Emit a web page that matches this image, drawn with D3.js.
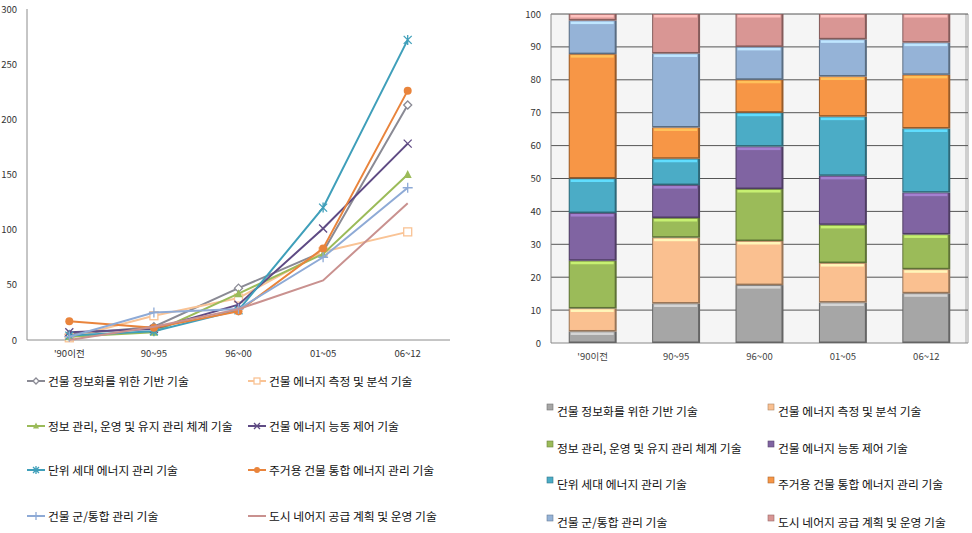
<!DOCTYPE html>
<html><head><meta charset="utf-8">
<script src="https://cdn.jsdelivr.net/npm/d3@7"></script>
<style>
body{margin:0;background:#fff;}
text{font-family:"Noto Sans CJK KR","Noto Sans",sans-serif;}
</style></head>
<body><svg id="c" width="972" height="533"></svg>
<script>
const categories = ["'90이전","90~95","96~00","01~05","06~12"];
const seriesNames = [
 "건물 정보화를 위한 기반 기술",
 "건물 에너지 측정 및 분석 기술",
 "정보 관리, 운영 및 유지 관리 체계 기술",
 "건물 에너지 능동 제어 기술",
 "단위 세대 에너지 관리 기술",
 "주거용 건물 통합 에너지 관리 기술",
 "건물 군/통합 관리 기술",
 "도시 네어지 공급 계획 및 운영 기술"
];
// left chart: counts per period
const infoBase   = [5, 12, 47, 80, 213];
const measure    = [2, 22, 38, 80, 98];
const infoMgmt   = [3, 7, 42, 78, 150];
const activeCtrl = [7, 10, 32, 101, 178];
const unitHouse  = [4, 8, 27, 120, 272];
const residInteg = [17, 11, 26, 83, 226];
const groupMgmt  = [3, 25, 28, 75, 138];
const citySupply = [0, 12, 28, 54, 124];
// right chart: share (%) per period, same series order
const shareInfoBase   = [3.5, 12, 17.6, 12.3, 15.1];
const shareMeasure    = [7, 20, 13.4, 12, 7.3];
const shareInfoMgmt   = [14.5, 6, 15.8, 11.6, 10.6];
const shareActiveCtrl = [14.5, 10, 12.9, 14.9, 12.7];
const shareUnitHouse  = [10.5, 8, 10.3, 18, 19.5];
const shareResidInteg = [37.8, 9.5, 10, 12.2, 16.3];
const shareGroupMgmt  = [10.2, 22.5, 10, 11.3, 9.8];
const shareCitySupply = [2, 12, 10, 7.7, 8.7];
const leftTicks = [0,50,100,150,200,250,300];
const rightTicks = [0,10,20,30,40,50,60,70,80,90,100];

const lineSeries = [infoBase, measure, infoMgmt, activeCtrl, unitHouse, residInteg, groupMgmt, citySupply];
const shareSeries = [shareInfoBase, shareMeasure, shareInfoMgmt, shareActiveCtrl, shareUnitHouse, shareResidInteg, shareGroupMgmt, shareCitySupply];
const lineColors = ["#8a8a94","#f9c395","#9bbb59","#5f4b84","#3f9fba","#e9843c","#8eaad6","#c9918f"];
const markers = ["diamond","square","triangle","x","star","circle","plus","none"];
const barColors = ["#a6a6a6","#fac090","#9bbb59","#8064a2","#4bacc6","#f79646","#95b3d7","#d99694"];

const svg = d3.select("#c");

// ---------- LEFT LINE CHART ----------
const L = {x0:27, x1:450, y0:340, y1:9};
const xL = d3.scaleBand().domain(categories).range([L.x0, L.x1]);
const yL = d3.scaleLinear().domain([0,300]).range([L.y0, L.y1]);
const gL = svg.append("g");
gL.append("line").attr("x1",L.x0).attr("x2",L.x0).attr("y1",L.y1).attr("y2",L.y0).attr("stroke","#8c8c8c");
gL.append("line").attr("x1",L.x0).attr("x2",L.x1).attr("y1",L.y0).attr("y2",L.y0).attr("stroke","#8c8c8c");
gL.selectAll(".yt").data(leftTicks).join("text").attr("x",17).attr("y",d=>yL(d)+3.5)
  .attr("text-anchor","end").attr("font-size",9.5).attr("fill","#333").text(d=>d);
gL.selectAll(".xt").data(categories).join("text").attr("x",d=>xL(d)+xL.bandwidth()/2).attr("y",357)
  .attr("text-anchor","middle").attr("font-size",9.5).attr("fill","#333").text(d=>d);

function drawMarker(g, type, x, y, color, s){
  s = s||4;
  if(type==="diamond"){
    g.append("path").attr("d",`M${x},${y-s}L${x+s},${y}L${x},${y+s}L${x-s},${y}Z`).attr("fill","#fff").attr("stroke",color).attr("stroke-width",1.3);
  } else if(type==="square"){
    g.append("rect").attr("x",x-s).attr("y",y-s).attr("width",2*s).attr("height",2*s).attr("fill","#fff").attr("stroke",color).attr("stroke-width",1.3);
  } else if(type==="triangle"){
    g.append("path").attr("d",`M${x},${y-s-0.5}L${x+s},${y+s-0.5}L${x-s},${y+s-0.5}Z`).attr("fill",color);
  } else if(type==="x"){
    g.append("path").attr("d",`M${x-s},${y-s}L${x+s},${y+s}M${x-s},${y+s}L${x+s},${y-s}`).attr("stroke",color).attr("stroke-width",1.3);
  } else if(type==="star"){
    g.append("path").attr("d",`M${x-s},${y-s}L${x+s},${y+s}M${x-s},${y+s}L${x+s},${y-s}M${x},${y-s-1}L${x},${y+s+1}`).attr("stroke",color).attr("stroke-width",1.3);
  } else if(type==="circle"){
    g.append("circle").attr("cx",x).attr("cy",y).attr("r",s).attr("fill",color);
  } else if(type==="plus"){
    g.append("path").attr("d",`M${x-s-1},${y}L${x+s+1},${y}M${x},${y-s-1}L${x},${y+s+1}`).attr("stroke",color).attr("stroke-width",1.3);
  }
}
const line = d3.line().x((d,i)=>xL(categories[i])+xL.bandwidth()/2).y(d=>yL(d));
lineSeries.forEach((vals,si)=>{
  const g = gL.append("g");
  g.append("path").datum(vals).attr("d",line).attr("fill","none").attr("stroke",lineColors[si]).attr("stroke-width",2);
  vals.forEach((v,i)=>drawMarker(g, markers[si], xL(categories[i])+xL.bandwidth()/2, yL(v), lineColors[si]));
});
// left legend
const legRowsL = [381,426,470,516];
seriesNames.forEach((n,i)=>{
  const col = i%2, row = Math.floor(i/2);
  const mx = col===0 ? 27 : 248;
  const y = legRowsL[row];
  const g = gL.append("g");
  g.append("line").attr("x1",mx).attr("x2",mx+18).attr("y1",y).attr("y2",y).attr("stroke",lineColors[i]).attr("stroke-width",2);
  drawMarker(g, markers[i], mx+9, y, lineColors[i], 3);
  g.append("text").attr("x",mx+21).attr("y",y+4.5).attr("font-size",11.8).attr("fill","#111").text(n);
});

// ---------- RIGHT STACKED BAR CHART ----------
const R = {x0:551, x1:968, y0:343, y1:14};
const xR = d3.scaleBand().domain(categories).range([R.x0, R.x1]).paddingInner(0.425).paddingOuter(0.2125);
const yR = d3.scaleLinear().domain([0,100]).range([R.y0, R.y1]);
const gR = svg.append("g");
gR.append("rect").attr("x",R.x0).attr("y",R.y1).attr("width",R.x1-R.x0).attr("height",R.y0-R.y1).attr("fill","#f5f5f5");
gR.append("rect").attr("x",R.x1-3).attr("y",R.y1).attr("width",4).attr("height",R.y0-R.y1).attr("fill","#cfcfcf");
gR.selectAll(".gl").data(rightTicks).join("line").attr("x1",R.x0).attr("x2",R.x1).attr("y1",d=>yR(d)).attr("y2",d=>yR(d))
  .attr("stroke",d=>d===0?"#888":"#555").attr("stroke-width",1);
gR.append("line").attr("x1",R.x0).attr("x2",R.x0).attr("y1",R.y1).attr("y2",R.y0).attr("stroke","#888");
gR.selectAll(".yt").data(rightTicks).join("text").attr("x",541).attr("y",d=>yR(d)+3.5)
  .attr("text-anchor","end").attr("font-size",9.5).attr("fill","#333").text(d=>d);
gR.selectAll(".xt").data(categories).join("text").attr("x",d=>xR(d)+xR.bandwidth()/2).attr("y",360)
  .attr("text-anchor","middle").attr("font-size",9.5).attr("fill","#444").text(d=>d);

const stackData = categories.map((c,i)=>{const o={cat:c}; shareSeries.forEach((s,si)=>o["s"+si]=s[i]); return o;});
const stack = d3.stack().keys(shareSeries.map((s,i)=>"s"+i))(stackData);
stack.forEach((layer,si)=>{
  const base = d3.color(barColors[si]);
  const dark = base.darker(1.4).formatHex();
  const light = base.brighter(0.7).formatHex();
  layer.forEach(d=>{
    const x = xR(d.data.cat), w = xR.bandwidth();
    const yTop = yR(d[1]), yBot = yR(d[0]);
    const h = yBot - yTop;
    if(h<=0) return;
    const g = gR.append("g");
    g.append("rect").attr("x",x).attr("y",yTop).attr("width",w).attr("height",h).attr("fill",dark);
    g.append("rect").attr("x",x+1).attr("y",yTop+0.5).attr("width",w-3).attr("height",Math.max(0,h-2)).attr("fill",barColors[si]);
    g.append("rect").attr("x",x+2).attr("y",yTop+1).attr("width",w-5).attr("height",Math.min(2.5,Math.max(0,h-3))).attr("fill",light);
  });
});
// right legend
const legRowsR = [411,448,484,522];
seriesNames.forEach((n,i)=>{
  const col = i%2, row = Math.floor(i/2);
  const mx = col===0 ? 547 : 768;
  const y = legRowsR[row];
  const g = gR.append("g");
  g.append("rect").attr("x",mx).attr("y",y-7).attr("width",6).attr("height",6).attr("fill",barColors[i]).attr("stroke",d3.color(barColors[i]).darker(1).formatHex()).attr("stroke-width",0.6);
  g.append("text").attr("x",mx+10).attr("y",y+4.5).attr("font-size",11.8).attr("fill","#111").text(n);
});
</script></body></html>
